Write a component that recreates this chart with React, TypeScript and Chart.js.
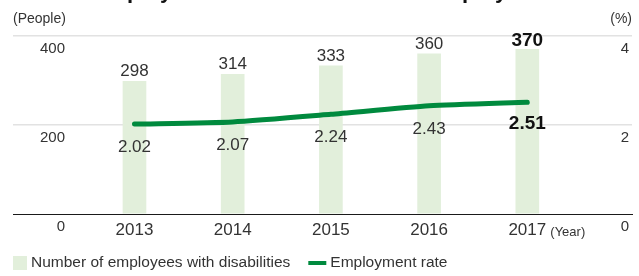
import React, { useEffect, useRef } from "react";
import { Chart, registerables } from "chart.js";

Chart.register(...registerables);

const years = ["2013", "2014", "2015", "2016", "2017"];
const employees = [298, 314, 333, 360, 370];
const rates = [2.02, 2.07, 2.24, 2.43, 2.51];
const leftTicks = [0, 200, 400];
const rightTicks = [0, 2, 4];
const titleText = "Number of employees with disabilities and employment rate";
const leftUnit = "(People)";
const rightUnit = "(%)";
const xUnit = "(Year)";
const barLabel = "Number of employees with disabilities";
const lineLabel = "Employment rate";

const FONT = '"Liberation Sans", Arial, Helvetica, sans-serif';
const TEXT = "#333333";
const DARK = "#111111";
const BAR = "#e2efdb";
const LINE = "#008a3e";
const GRID = "#e2e2e2";

const annotate = {
  id: "annotate",
  afterDatasetsDraw(chart: any) {
    const ctx = chart.ctx;
    ctx.save();
    const barMeta = chart.getDatasetMeta(1);
    barMeta.data.forEach((el: any, i: number) => {
      const last = i === employees.length - 1;
      ctx.font = `${last ? "bold " : ""}${last ? 19 : 17}px ${FONT}`;
      ctx.fillStyle = last ? DARK : TEXT;
      ctx.textAlign = "center";
      ctx.textBaseline = "alphabetic";
      ctx.fillText(String(employees[i]), el.x, el.y - (last ? 3.5 : 5));
    });
    const lineMeta = chart.getDatasetMeta(0);
    lineMeta.data.forEach((pt: any, i: number) => {
      const last = i === rates.length - 1;
      ctx.font = `${last ? "bold " : ""}${last ? 19 : 17}px ${FONT}`;
      ctx.fillStyle = last ? DARK : TEXT;
      ctx.textAlign = "center";
      ctx.textBaseline = "alphabetic";
      ctx.fillText(rates[i].toFixed(2), pt.x, pt.y + (last ? 27 : 28));
    });
    ctx.restore();
  },
  afterDraw(chart: any) {
    const ctx = chart.ctx;
    const { left, right, top } = chart.chartArea;
    ctx.save();
    ctx.textBaseline = "alphabetic";
    // axis units
    ctx.font = `14px ${FONT}`;
    ctx.fillStyle = TEXT;
    ctx.textAlign = "left";
    ctx.fillText(leftUnit, left, top - 13.5);
    ctx.textAlign = "right";
    ctx.fillText(rightUnit, right, top - 13.5);
    // year unit
    const xs = chart.scales.x;
    const lastX = xs.getPixelForValue(years.length - 1);
    ctx.font = `13px ${FONT}`;
    ctx.textAlign = "left";
    ctx.fillText(xUnit, lastX + 23, xs.top + 22);
    // cut-off title (only its descenders show, as in the source)
    ctx.font = `bold 22px ${FONT}`;
    ctx.fillStyle = DARK;
    const pre = ctx.measureText("Number of em").width;
    ctx.fillText(titleText, 127 - pre, -2);
    // legend
    const ly = 263;
    ctx.font = `15.5px ${FONT}`;
    ctx.textBaseline = "middle";
    let x = left;
    ctx.fillStyle = BAR;
    ctx.fillRect(x, ly - 7, 14, 14);
    x += 18;
    ctx.fillStyle = TEXT;
    ctx.fillText(barLabel, x, ly);
    x += ctx.measureText(barLabel).width + 18;
    ctx.strokeStyle = LINE;
    ctx.lineWidth = 4;
    ctx.beginPath();
    ctx.moveTo(x, ly);
    ctx.lineTo(x + 18, ly);
    ctx.stroke();
    x += 22;
    ctx.fillText(lineLabel, x, ly);
    ctx.restore();
  },
};

export default function App() {
  const ref = useRef<HTMLCanvasElement | null>(null);
  useEffect(() => {
    document.body.style.margin = "0";
    const canvas = ref.current!;
    const chart = new Chart(canvas, {
      type: "bar",
      data: {
        datasets: [
          {
            type: "line",
            label: lineLabel,
            data: rates.map((r, i) => ({ x: i, y: r })),
            yAxisID: "y1",
            borderColor: LINE,
            backgroundColor: LINE,
            borderWidth: 5,
            pointRadius: 0,
            tension: 0.2,
            borderCapStyle: "round",
            order: 0,
          } as any,
          {
            type: "bar",
            label: barLabel,
            data: employees.map((v, i) => ({ x: i, y: v })),
            yAxisID: "y",
            backgroundColor: BAR,
            barThickness: 23,
            order: 1,
          } as any,
        ],
      },
      options: {
        responsive: false,
        animation: false,
        devicePixelRatio: 1,
        layout: { padding: { top: 35, left: 13, right: 7, bottom: 29.6 } },
        plugins: { legend: { display: false }, tooltip: { enabled: false } },
        scales: {
          x: {
            type: "linear",
            min: -1.237,
            max: 5.066,
            offset: false,
            afterBuildTicks: (s: any) => {
              s.ticks = years.map((_, i) => ({ value: i }));
            },
            ticks: {
              callback: (v: any) => years[v],
              font: { size: 17, family: FONT },
              color: TEXT,
              padding: 6,
              autoSkip: false,
              maxRotation: 0,
            },
            grid: { display: false, drawTicks: false },
            border: { display: true, color: "#1a1a1a", width: 1 },
          },
          y: {
            type: "linear",
            position: "left",
            min: 0,
            max: 400,
            afterBuildTicks: (s: any) => {
              s.ticks = leftTicks.map((v) => ({ value: v }));
            },
            afterFit: (s: any) => {
              s.width = 0;
            },
            grid: {
              drawTicks: false,
              color: (c: any) => (c.tick && c.tick.value === 0 ? "rgba(0,0,0,0)" : GRID),
              lineWidth: 1.5,
            },
            border: { display: false },
            ticks: {
              mirror: true,
              crossAlign: "far",
              padding: 27,
              labelOffset: 13,
              font: { size: 15, family: FONT },
              color: TEXT,
            },
          },
          y1: {
            type: "linear",
            position: "right",
            min: 0,
            max: 4,
            afterBuildTicks: (s: any) => {
              s.ticks = rightTicks.map((v) => ({ value: v }));
            },
            afterFit: (s: any) => {
              s.width = 0;
            },
            grid: { display: false, drawTicks: false },
            border: { display: false },
            ticks: {
              mirror: true,
              crossAlign: "near",
              padding: -3,
              labelOffset: 13,
              font: { size: 15, family: FONT },
              color: TEXT,
            },
          },
        },
      } as any,
      plugins: [annotate],
    });
    return () => chart.destroy();
  }, []);
  return (
    <div style={{ width: 639, height: 276, position: "relative" }}>
      <canvas ref={ref} width={639} height={276} style={{ display: "block" }} />
    </div>
  );
}
